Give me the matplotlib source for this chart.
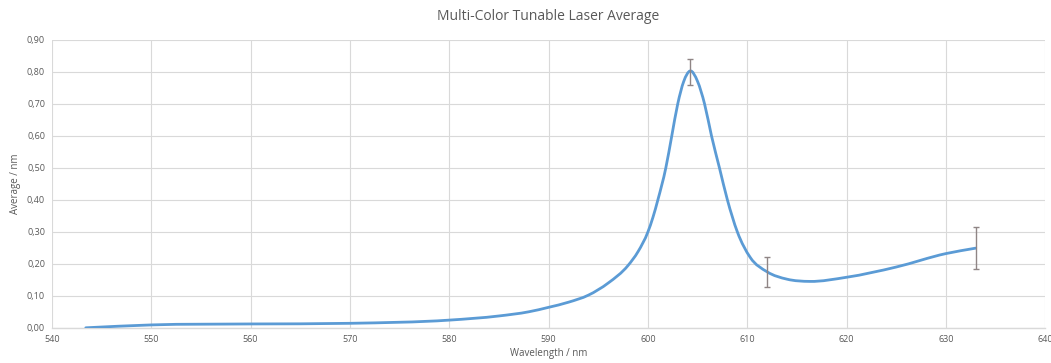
import matplotlib
matplotlib.use("Agg")
import matplotlib.pyplot as plt
import numpy as np
from matplotlib.path import Path
from matplotlib.patches import PathPatch
from matplotlib.ticker import FuncFormatter, MultipleLocator

# values
wavelength = [543.4, 550, 560, 570, 580, 585, 588, 590, 592, 594, 596, 598, 599,
              600, 600.5, 601, 601.8, 602.4, 603.0, 603.6, 604.25, 605.0, 605.7,
              606.4, 607.2, 608.0, 609.0, 610.3, 612.0, 614.0, 616.3, 620, 625,
              630, 633]
average = [0.000, 0.009, 0.012, 0.014, 0.024, 0.037, 0.050, 0.064, 0.080, 0.102,
           0.140, 0.195, 0.238, 0.300, 0.345, 0.400, 0.500, 0.600, 0.700, 0.770,
           0.803, 0.770, 0.700, 0.600, 0.500, 0.400, 0.300, 0.220, 0.175, 0.152,
           0.145, 0.158, 0.190, 0.232, 0.249]

err_x = [604.25, 612.0, 633.0]
err_y = [0.800, 0.173, 0.249]
err = [0.040, 0.047, 0.066]

line_color = "#5B9BD5"
grid_color = "#d9d9d9"
text_color = "#595959"


def smooth_path(xs, ys):
    # smoothed line as cubic Bezier segments, slopes from the three-point derivative
    x = np.asarray(xs, float)
    y = np.asarray(ys, float)
    h = np.diff(x)
    d = np.diff(y) / h
    m = np.empty_like(y)
    m[0] = d[0]
    m[-1] = d[-1]
    m[1:-1] = (h[:-1] * d[1:] + h[1:] * d[:-1]) / (h[:-1] + h[1:])
    verts = [(x[0], y[0])]
    codes = [Path.MOVETO]
    for i in range(len(x) - 1):
        verts += [(x[i] + h[i] / 3, y[i] + m[i] * h[i] / 3),
                  (x[i + 1] - h[i] / 3, y[i + 1] - m[i + 1] * h[i] / 3),
                  (x[i + 1], y[i + 1])]
        codes += [Path.CURVE4] * 3
    return Path(verts, codes)


plt.rcParams['font.family'] = ['Open Sans', 'DejaVu Sans']

fig = plt.figure(figsize=(10.51, 3.63), dpi=100)
ax = fig.add_axes([0.0495, 0.097, 0.945, 0.793])

ax.add_patch(PathPatch(smooth_path(wavelength, average), fill=False,
                       edgecolor=line_color, linewidth=2.0, capstyle='round',
                       joinstyle='round', zorder=3))
ax.errorbar(err_x, err_y, yerr=err, fmt='none', ecolor="#8f8585",
            elinewidth=1.0, capsize=2, capthick=1.0, zorder=4)

ax.set_xlim(540, 640)
ax.set_ylim(0, 0.9)
ax.xaxis.set_major_locator(MultipleLocator(10))
ax.yaxis.set_major_locator(MultipleLocator(0.1))
ax.yaxis.set_major_formatter(FuncFormatter(lambda v, p: f"{v:.2f}".replace(".", ",")))
ax.grid(True, color=grid_color, linewidth=0.8)
ax.set_axisbelow(True)

for side in ["top", "right", "left"]:
    ax.spines[side].set_visible(False)
ax.spines["bottom"].set_color(grid_color)
ax.spines["bottom"].set_linewidth(1.0)
ax.tick_params(length=0, labelsize=6.5, colors=text_color, pad=5)

ax.set_title("Multi-Color Tunable Laser Average", fontsize=10, color=text_color, pad=14)
ax.set_xlabel("Wavelength / nm", fontsize=7, color=text_color, labelpad=3)
ax.set_ylabel("Average / nm", fontsize=7, color=text_color, labelpad=4)

fig.savefig("out.png", dpi=100)
